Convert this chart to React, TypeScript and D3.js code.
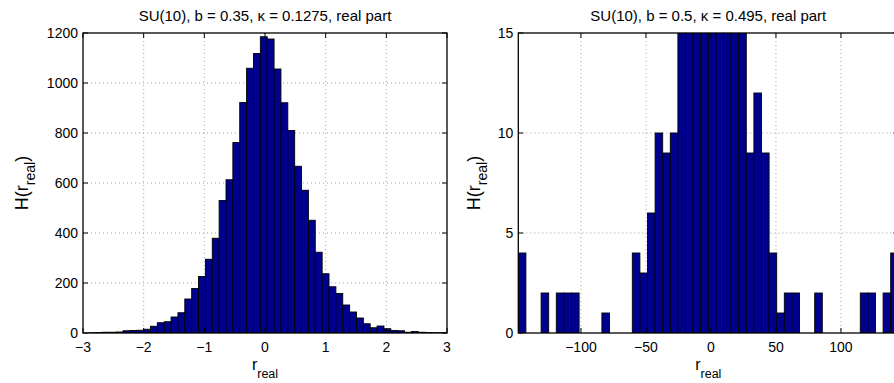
import React from "react";
import * as d3 from "d3";

// ---------- data ----------
const leftTitle = "SU(10), b = 0.35, κ = 0.1275, real part";
const rightTitle = "SU(10), b = 0.5, κ = 0.495, real part";

const leftBinStart = -3.02;
const leftBinWidth = 0.1132;
const leftCounts = [
  0, 1, 2, 3, 3, 4, 9, 10, 11, 15, 27, 41, 45, 64, 81, 136, 178, 226, 295, 379,
  530, 613, 762, 922, 1059, 1118, 1185, 1176, 1056, 921, 810, 667, 571, 451, 323,
  237, 185, 158, 112, 84, 60, 37, 21, 28, 17, 10, 9, 3, 6, 3, 2, 1, 1,
];
const leftXTicks = [-3, -2, -1, 0, 1, 2, 3];
const leftYTicks = [0, 200, 400, 600, 800, 1000, 1200];
const leftXDomain = [-3, 3];
const leftYDomain = [0, 1200];

const rightBinStart = -148.2;
const rightBinWidth = 5.846;
const rightCounts = [
  4, 0, 0, 2, 0, 2, 2, 2, 0, 0, 0, 1, 0, 0, 0, 4, 3, 6, 10, 9,
  10, 18, 22, 27, 30, 33, 31, 26, 21, 17, 9, 12, 9, 4, 1, 2, 2, 0, 0, 2,
  0, 0, 0, 0, 0, 2, 2, 0, 2, 4,
];
const rightXTicks = [-100, -50, 0, 50, 100];
const rightYTicks = [0, 5, 10, 15];
const rightXDomain = [-148.2, 144.1];
const rightYDomain = [0, 15];

// ---------- style ----------
const FONT = "'Liberation Sans', Arial, Helvetica, sans-serif";
const BAR = "#00008F";
const TICK_LEN = 5;

const fmt = (v: number) => (v < 0 ? "\u2212" + Math.abs(v) : String(v));

type PanelProps = {
  id: string;
  x0: number;
  x1: number;
  y0: number;
  y1: number;
  title: string;
  binStart: number;
  binWidth: number;
  counts: number[];
  xTicks: number[];
  yTicks: number[];
  xDomain: number[];
  yDomain: number[];
  yLabelX: number;
};

function Panel(p: PanelProps) {
  const x = d3.scaleLinear().domain(p.xDomain).range([p.x0, p.x1]);
  const y = d3.scaleLinear().domain(p.yDomain).range([p.y1, p.y0]);
  const cx = (p.x0 + p.x1) / 2;
  const cy = (p.y0 + p.y1) / 2;
  const xGrid = p.xTicks.filter((t) => x(t) > p.x0 + 1 && x(t) < p.x1 - 1);
  const yGrid = p.yTicks.filter((t) => y(t) < p.y1 - 1 && y(t) > p.y0 + 1);
  const clipId = "clip-" + p.id;
  return (
    <g>
      <defs>
        <clipPath id={clipId}>
          <rect x={p.x0} y={p.y0} width={p.x1 - p.x0} height={p.y1 - p.y0} />
        </clipPath>
      </defs>
      {/* grid */}
      <g stroke="#8a8a8a" strokeWidth={0.8} strokeDasharray="1,3">
        {xGrid.map((t) => (
          <line key={"gx" + t} x1={x(t)} x2={x(t)} y1={p.y0} y2={p.y1} />
        ))}
        {yGrid.map((t) => (
          <line key={"gy" + t} x1={p.x0} x2={p.x1} y1={y(t)} y2={y(t)} />
        ))}
      </g>
      {/* bars */}
      <g clipPath={`url(#${clipId})`} fill={BAR} stroke="#000" strokeWidth={0.9}>
        {p.counts.map((c, i) => {
          const a = x(p.binStart + i * p.binWidth);
          const b = x(p.binStart + (i + 1) * p.binWidth);
          const top = y(c);
          return (
            <rect key={i} x={a} y={top} width={b - a} height={Math.max(0, p.y1 - top)} />
          );
        })}
      </g>
      {/* box */}
      <rect
        x={p.x0}
        y={p.y0}
        width={p.x1 - p.x0}
        height={p.y1 - p.y0}
        fill="none"
        stroke="#000"
        strokeWidth={1.3}
      />
      {/* ticks */}
      <g stroke="#000" strokeWidth={1}>
        {p.xTicks.map((t) => (
          <g key={"tx" + t}>
            <line x1={x(t)} x2={x(t)} y1={p.y1} y2={p.y1 - TICK_LEN} />
            <line x1={x(t)} x2={x(t)} y1={p.y0} y2={p.y0 + TICK_LEN} />
          </g>
        ))}
        {p.yTicks.map((t) => (
          <g key={"ty" + t}>
            <line x1={p.x0} x2={p.x0 + TICK_LEN} y1={y(t)} y2={y(t)} />
            <line x1={p.x1} x2={p.x1 - TICK_LEN} y1={y(t)} y2={y(t)} />
          </g>
        ))}
      </g>
      {/* tick labels */}
      <g fontFamily={FONT} fontSize={14} fill="#000">
        {p.xTicks.map((t) => (
          <text key={"lx" + t} x={x(t)} y={p.y1 + 18.5} textAnchor="middle">
            {fmt(t)}
          </text>
        ))}
        {p.yTicks.map((t) => (
          <text key={"ly" + t} x={p.x0 - 5} y={y(t) + 5} textAnchor="end">
            {fmt(t)}
          </text>
        ))}
      </g>
      {/* title */}
      <text x={cx} y={21} textAnchor="middle" fontFamily={FONT} fontSize={15}>
        {p.title}
      </text>
      {/* x label */}
      <text x={cx} y={370} textAnchor="middle" fontFamily={FONT} fontSize={16}>
        r
        <tspan fontSize={12.5} dy={8}>
          real
        </tspan>
      </text>
      {/* y label */}
      <text
        transform={`translate(${p.yLabelX},${cy}) rotate(-90)`}
        textAnchor="middle"
        fontFamily={FONT}
        fontSize={18}
      >
        H(r
        <tspan fontSize={14} dy={7}>
          real
        </tspan>
        <tspan dy={-7}>)</tspan>
      </text>
    </g>
  );
}

export default function App() {
  return (
    <svg
      width={894}
      height={383}
      style={{ position: "absolute", left: 0, top: 0, background: "#fff", overflow: "hidden" }}
    >
      <rect x={0} y={0} width={894} height={383} fill="#fff" />
      <Panel
        id="left"
        x0={83}
        x1={447}
        y0={33}
        y1={333}
        title={leftTitle}
        binStart={leftBinStart}
        binWidth={leftBinWidth}
        counts={leftCounts}
        xTicks={leftXTicks}
        yTicks={leftYTicks}
        xDomain={leftXDomain}
        yDomain={leftYDomain}
        yLabelX={27.5}
      />
      <Panel
        id="right"
        x0={518.3}
        x1={898.3}
        y0={33}
        y1={333}
        title={rightTitle}
        binStart={rightBinStart}
        binWidth={rightBinWidth}
        counts={rightCounts}
        xTicks={rightXTicks}
        yTicks={rightYTicks}
        xDomain={rightXDomain}
        yDomain={rightYDomain}
        yLabelX={480}
      />
    </svg>
  );
}
